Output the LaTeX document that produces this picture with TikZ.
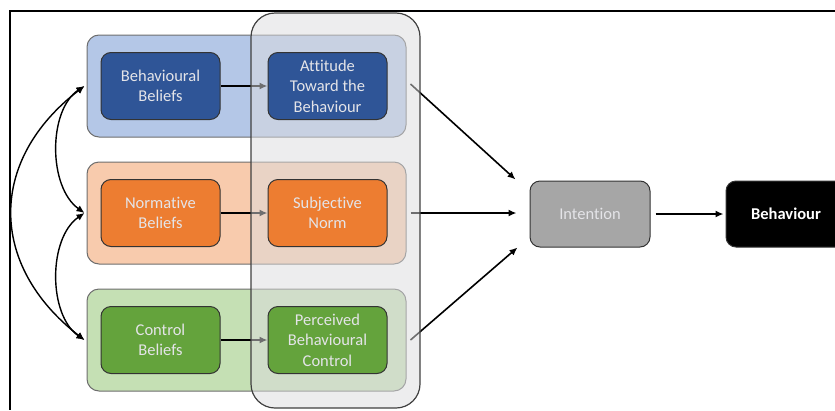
\documentclass[tikz,border=0pt]{standalone}
\usepackage{fontspec}
\setmainfont{Carlito}[Ligatures=NoCommon]
\usepackage{tikz}
\usetikzlibrary{arrows.meta}
\definecolor{bgrpfill}{RGB}{180,199,231}
\definecolor{bboxfill}{RGB}{47,85,151}
\definecolor{ogrpfill}{RGB}{248,203,173}
\definecolor{oboxfill}{RGB}{237,125,49}
\definecolor{ggrpfill}{RGB}{197,224,180}
\definecolor{gboxfill}{RGB}{100,163,60}
\definecolor{intfill}{RGB}{166,166,166}
\definecolor{boxtext}{RGB}{228,228,232}
\definecolor{grpline}{RGB}{110,110,110}
\pgfdeclarelayer{background}
\pgfsetlayers{background,main}

\begin{document}
\begin{tikzpicture}[x=1pt, y=-1pt,
    font=\fontsize{16.5}{20.5}\selectfont,
    grp/.style={draw=grpline, line width=1pt, rounded corners=12pt, minimum width=319pt, minimum height=102pt},
    inbox/.style={draw=black!80, line width=1pt, rounded corners=10pt, minimum width=119pt, minimum height=67pt, inner sep=2pt, align=center, text=boxtext},
    arr/.style={line width=1.6pt, -{Latex[length=8pt,width=7pt]}},
    darr/.style={line width=1.4pt, {Latex[length=8pt,width=7pt]}-{Latex[length=8pt,width=7pt]}}]
  \useasboundingbox (0,0) rectangle (835,410);
  \clip (0,0) rectangle (835,410);
  %% Frame
  \draw[line width=2pt] (835,11) -- (10,11) -- (10,410);
  %% Beliefs and their outcomes
  \node[inbox, fill=bboxfill] (bbel)  at (160.5,86)  {Behavioural\\Beliefs};
  \node[inbox, fill=bboxfill] (att)   at (327.5,86)  {Attitude\\Toward the\\Behaviour};
  \node[inbox, fill=oboxfill] (nbel)  at (160.5,213) {Normative\\Beliefs};
  \node[inbox, fill=oboxfill] (snorm) at (327.5,213) {Subjective\\Norm};
  \node[inbox, fill=gboxfill] (cbel)  at (160.5,340) {Control\\Beliefs};
  \node[inbox, fill=gboxfill] (pbc)   at (327.5,340) {Perceived\\Behavioural\\Control};
  %% Intention and behaviour
  \node[inbox, fill=intfill, minimum width=120pt, minimum height=66pt] (intent) at (590,214) {Intention};
  \node[inbox, fill=black, text=white, minimum width=120pt, minimum height=66pt] (behav) at (786,214) {\bfseries Behaviour};

  \begin{pgfonlayer}{background}
    %% Groups
    \node[grp, fill=bgrpfill] (bgrp) at (246.5,86)  {};
    \node[grp, fill=ogrpfill] (ogrp) at (246.5,213) {};
    \node[grp, fill=ggrpfill] (cgrp) at (246.5,340) {};
    %% Correlations between beliefs
    \draw[darr] ([xshift=-2pt]bgrp.west) .. controls (-12,160) and (-12,265) .. ([xshift=-2pt]cgrp.west);
    \draw[darr] ([xshift=-2pt]bgrp.west) .. controls (48,110) and (48,187) .. ([xshift=-2pt]ogrp.west);
    \draw[darr] ([xshift=-2pt]ogrp.west) .. controls (48,238) and (48,315) .. ([xshift=-2pt]cgrp.west);
    %% Beliefs -> outcomes
    \draw[arr] (bbel) -- (att);
    \draw[arr] (nbel) -- (snorm);
    \draw[arr] (cbel) -- (pbc);
    %% Outcomes -> intention -> behaviour
    \draw[arr] ([xshift=4pt,yshift=2pt]bgrp.east) -- ([xshift=-14pt,yshift=1pt]intent.north west);
    \draw[arr] ([xshift=4pt]ogrp.east) -- ([xshift=-13pt,yshift=1pt]intent.west);
    \draw[arr] ([xshift=4pt]cgrp.east) -- ([xshift=-12pt]intent.south west);
    \draw[arr] ([xshift=5pt]intent.east) -- ([xshift=-2pt]behav.west);
    %% Shaded column
    \node[draw=black!75, line width=1.2pt, rounded corners=24pt, fill={rgb,255:red,220;green,220;blue,222}, fill opacity=0.5,
          minimum width=169pt, minimum height=395pt] (tpb) at (335.5,210.5) {};
  \end{pgfonlayer}
\end{tikzpicture}
\end{document}
